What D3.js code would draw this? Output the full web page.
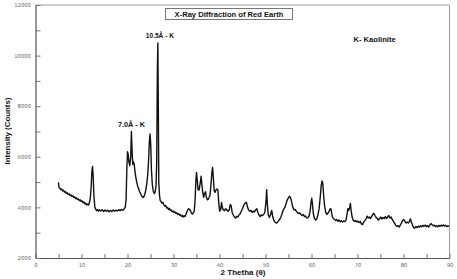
<!DOCTYPE html>
<html><head><meta charset="utf-8">
<script src="https://cdn.jsdelivr.net/npm/d3@7/dist/d3.min.js"></script>
<style>body{margin:0;background:#fff}svg{display:block}</style>
</head><body>
<svg id="c" width="457" height="279"></svg>
<script>
const twoTheta = [5.0,5.1,5.3,5.5,5.7,5.9,6.1,6.3,6.5,6.7,6.9,7.1,7.3,7.5,7.7,7.9,8.1,8.3,8.5,8.7,8.9,9.1,9.3,9.5,9.7,9.9,10.1,10.3,10.5,10.7,10.9,11.1,11.3,11.5,11.7,11.9,12.1,12.25,12.4,12.55,12.7,12.9,13.1,13.3,13.5,13.7,13.9,14.2,14.5,14.8,15.1,15.4,15.7,16.0,16.3,16.6,16.9,17.2,17.5,17.8,18.1,18.4,18.7,19.0,19.3,19.5,19.7,19.85,20.0,20.15,20.3,20.5,20.7,20.85,21.0,21.15,21.3,21.45,21.6,21.8,22.0,22.2,22.4,22.6,22.8,23.0,23.2,23.4,23.6,23.8,24.0,24.2,24.4,24.6,24.75,24.9,25.05,25.2,25.4,25.6,25.8,26.0,26.2,26.35,26.5,26.6,26.7,26.8,26.95,27.1,27.3,27.5,27.7,27.9,28.1,28.3,28.5,28.7,28.9,29.1,29.3,29.5,29.7,29.9,30.1,30.3,30.5,30.7,30.9,31.1,31.3,31.5,31.7,31.9,32.1,32.3,32.5,32.7,32.9,33.1,33.3,33.5,33.7,33.9,34.1,34.3,34.5,34.7,34.85,35.0,35.15,35.35,35.55,35.8,36.0,36.15,36.35,36.55,36.75,36.95,37.15,37.35,37.55,37.75,37.95,38.15,38.35,38.5,38.65,38.85,39.05,39.25,39.45,39.65,39.85,40.05,40.25,40.45,40.65,40.85,41.1,41.35,41.6,41.85,42.1,42.35,42.55,42.75,43.0,43.25,43.5,43.75,44.0,44.25,44.5,44.75,45.0,45.3,45.6,45.85,46.1,46.35,46.6,46.85,47.1,47.35,47.6,47.85,48.1,48.35,48.6,48.85,49.1,49.35,49.6,49.85,50.1,50.25,50.4,50.6,50.85,51.1,51.35,51.55,51.8,52.05,52.3,52.55,52.8,53.05,53.3,53.55,53.8,54.05,54.3,54.55,54.8,55.05,55.25,55.45,55.7,55.95,56.2,56.45,56.7,56.95,57.2,57.45,57.7,57.95,58.2,58.45,58.7,58.95,59.2,59.45,59.7,59.9,60.05,60.2,60.4,60.65,60.9,61.15,61.4,61.65,61.9,62.1,62.3,62.45,62.65,62.85,63.1,63.35,63.6,63.85,64.05,64.25,64.5,64.75,65.0,65.25,65.5,65.75,66.0,66.25,66.5,66.75,67.0,67.25,67.5,67.7,67.9,68.1,68.3,68.45,68.6,68.85,69.1,69.35,69.6,69.85,70.1,70.35,70.6,70.85,71.1,71.35,71.6,71.85,72.1,72.35,72.6,72.85,73.1,73.35,73.55,73.8,74.05,74.3,74.55,74.8,75.05,75.3,75.55,75.8,76.05,76.3,76.55,76.8,77.05,77.3,77.55,77.8,78.05,78.3,78.55,78.8,79.05,79.3,79.55,79.8,80.05,80.3,80.55,80.8,81.05,81.3,81.5,81.7,81.95,82.2,82.45,82.7,82.95,83.2,83.45,83.7,83.95,84.2,84.45,84.7,84.95,85.2,85.45,85.7,85.95,86.2,86.45,86.7,86.95,87.2,87.45,87.7,87.95,88.2,88.45,88.7,88.95,89.2,89.45,89.7,89.95];
const counts = [4990,4800,4760,4700,4730,4650,4680,4600,4630,4550,4580,4510,4540,4470,4500,4430,4460,4400,4420,4350,4380,4320,4340,4270,4300,4240,4260,4190,4220,4140,4170,4100,4130,4090,4170,4350,4800,5400,5620,5200,4450,4020,3920,3870,3910,3850,3900,3860,3910,3840,3900,3850,3890,3830,3880,3840,3900,3850,3890,3860,3910,3870,3920,3890,3950,4000,4300,5500,6200,6100,5800,5650,6000,7000,6200,5700,5800,5720,5450,5200,5000,4850,4750,4640,4560,4480,4420,4390,4440,4550,4700,4950,5300,5900,6600,6900,6500,5500,4900,4650,4550,4600,4850,5800,9500,10500,8000,5000,4500,4280,4230,4170,4200,4100,4050,4080,3980,4000,3920,3960,3880,3900,3830,3860,3800,3830,3760,3790,3720,3750,3690,3720,3650,3680,3620,3670,3640,3720,3820,3900,3950,3920,3850,3780,3740,3780,3850,4300,5000,5380,5100,4700,4680,4950,5230,4950,4600,4400,4550,4620,4400,4300,4320,4400,4500,4900,5400,5580,5200,4650,4600,4700,4730,4680,4150,3850,3900,4200,3980,3900,3870,3950,3900,3850,3900,4120,4050,3800,3700,3620,3580,3650,3620,3700,3750,3850,3950,4100,4180,4200,4000,3900,3850,3880,3800,3850,3820,3900,3950,3800,3700,3640,3700,3680,3720,3800,4200,4700,4150,3700,3600,3720,3880,3650,3500,3420,3380,3400,3460,3520,3600,3720,3880,3950,4050,4200,4320,4400,4440,4380,4200,4000,3900,3920,3840,3800,3760,3780,3720,3680,3720,3640,3660,3580,3600,3650,3850,4200,4360,4150,3750,3560,3500,3550,3700,3950,4400,4850,5050,4950,4450,4050,3800,3720,3780,3850,3950,3930,3650,3560,3520,3480,3520,3450,3500,3430,3470,3420,3460,3440,3500,3700,3950,3880,4000,4160,3900,3600,3480,3450,3480,3420,3460,3400,3440,3350,3320,3420,3480,3550,3650,3580,3620,3560,3650,3720,3770,3680,3600,3560,3500,3560,3620,3540,3600,3560,3640,3560,3620,3680,3580,3620,3520,3460,3380,3300,3250,3280,3220,3300,3380,3480,3520,3450,3380,3420,3380,3450,3550,3420,3300,3200,3180,3240,3200,3260,3220,3280,3230,3290,3250,3300,3240,3280,3220,3300,3360,3320,3270,3300,3240,3280,3230,3290,3250,3300,3260,3310,3260,3290,3240,3270,3250];
const xTicks = [0,5,10,15,20,25,30,35,40,45,50,55,60,65,70,75,80,85,90];
const yTicks = [2000,3000,4000,5000,6000,7000,8000,9000,10000,11000,12000];
const xLabels = [0,10,20,30,40,50,60,70,80,90];
const yLabels = [2000,4000,6000,8000,10000,12000];
const peakLabels = [{t:"10.5Å - K", x:26.6, y:10500}, {t:"7.0Å - K", x:20.85, y:7000}];
const chartTitle = "X-Ray Diffraction of Red Earth";
const legendText = "K- Kaolinite";
const xTitle = "2 Thetha (θ)";
const yTitle = "Intensity (Counts)";

const svg = d3.select("#c");
const L = 35.5, R = 449.5, T = 5, B = 258;
const x = d3.scaleLinear().domain([0,90]).range([L,R]);
const y = d3.scaleLinear().domain([2000,12000]).range([B,T]);
const font = "'Liberation Sans', Arial, sans-serif";

// frame top/right
svg.append("line").attr("x1",L).attr("x2",R).attr("y1",T).attr("y2",T).attr("stroke","#9a9a9a").attr("stroke-width",1);
svg.append("line").attr("x1",R).attr("x2",R).attr("y1",T).attr("y2",B).attr("stroke","#9a9a9a").attr("stroke-width",1);

const ax = svg.append("g").attr("transform",`translate(0,${B})`)
  .call(d3.axisBottom(x).tickValues(xTicks).tickSizeInner(-4).tickSizeOuter(0).tickPadding(5)
    .tickFormat(d => xLabels.includes(d) ? d : ""));
const ay = svg.append("g").attr("transform",`translate(${L},0)`)
  .call(d3.axisLeft(y).tickValues(yTicks).tickSizeInner(-5).tickSizeOuter(0).tickPadding(4.5)
    .tickFormat(d => yLabels.includes(d) ? d : ""));
[ax,ay].forEach(g => {
  g.select(".domain").attr("stroke","#555").attr("stroke-width",1.2);
  g.selectAll(".tick line").attr("stroke","#777");
  g.selectAll(".tick text").attr("fill","#666").style("font-family","Verdana, 'DejaVu Sans', sans-serif").style("font-size","5.3px");
});

const line = d3.line().x((d,i)=>x(twoTheta[i])).y(d=>y(d));
svg.append("path").datum(counts).attr("d",line).attr("fill","none").attr("stroke","#111").attr("stroke-width",1.4).attr("stroke-linejoin","round");

// title box
const tb = svg.append("g");
tb.append("rect").attr("x",165.5).attr("y",8.5).attr("width",127).attr("height",11).attr("fill","#fff").attr("stroke","#777");
tb.append("text").attr("x",229).attr("y",17).attr("text-anchor","middle").style("font-family",font).style("font-weight","bold").style("font-size","7.6px").attr("fill","#111").text(chartTitle);

svg.append("text").attr("x",353.5).attr("y",42).style("font-family",font).style("font-weight","bold").style("font-size","7.6px").attr("fill","#111").text(legendText);

svg.selectAll(".pk").data(peakLabels).enter().append("text").attr("class","pk")
  .attr("x",d=>x(d.x)+ (d.x>25? 2 : 0)).attr("y",d=>y(d.y)-5).attr("text-anchor","middle")
  .attr("textLength",d=>d.x>25?28:27).attr("lengthAdjust","spacingAndGlyphs")
  .style("font-family",font).style("font-weight","bold").style("font-size","8px").attr("fill","#111").text(d=>d.t);

svg.append("text").attr("x",243).attr("y",275).attr("text-anchor","middle").style("font-family",font).style("font-weight","bold").style("font-size","8px").attr("fill","#111").text(xTitle);
svg.append("text").attr("transform","translate(9.5,131) rotate(-90)").attr("text-anchor","middle").attr("textLength",67).attr("lengthAdjust","spacingAndGlyphs").style("font-family",font).style("font-weight","bold").style("font-size","7.5px").attr("fill","#111").text(yTitle);
</script>
</body></html>
